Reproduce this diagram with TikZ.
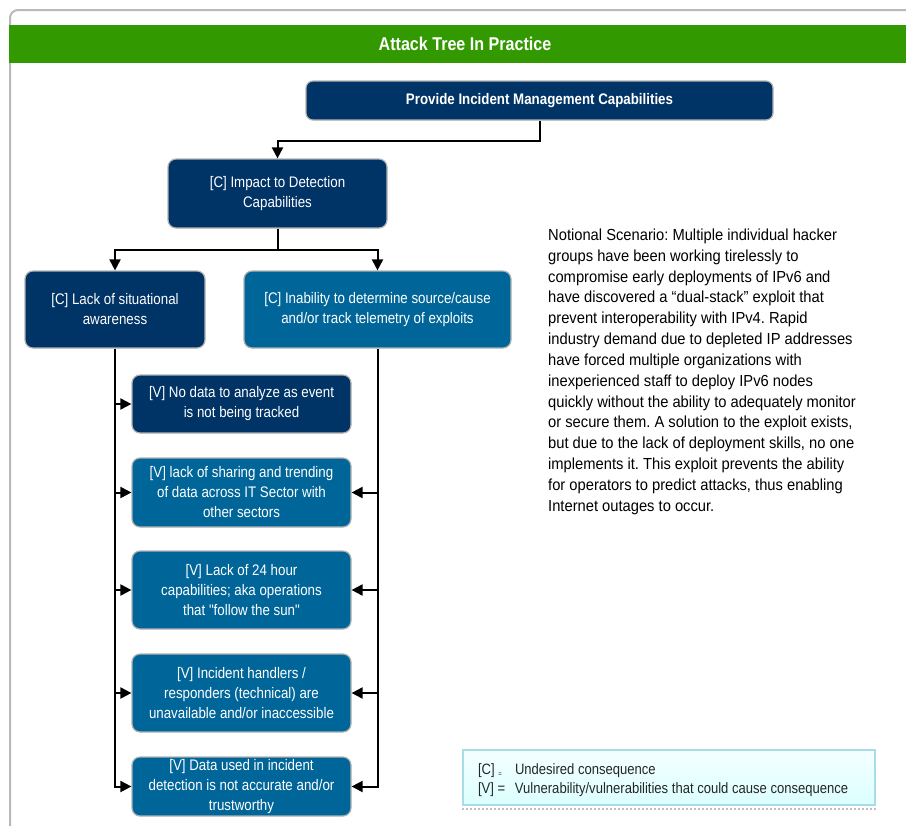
\documentclass[tikz,border=0pt]{standalone}
\usepackage{fontspec}
\setmainfont[FakeStretch=0.87, Ligatures=TeXOff]{Liberation Sans}
\newfontfamily\notefont[FakeStretch=0.92]{Liberation Sans}
\usepackage{tikz}
\usetikzlibrary{arrows.meta}
\usetikzlibrary{positioning}
\frenchspacing

\definecolor{barGreen}{RGB}{51,153,0}
\definecolor{navyBox}{RGB}{0,51,102}
\definecolor{blueBox}{RGB}{0,102,153}
\definecolor{legendLine}{RGB}{168,220,230}

\begin{document}
\begin{tikzpicture}[
        x=1pt, y=-1pt,
        box/.style={draw=gray!60, line width=1.2pt, rounded corners=8pt, inner sep=0pt,
            text=white, align=center, font=\fontsize{15.3}{20}\selectfont},
        darkbox/.style={box, fill=navyBox},
        lightbox/.style={box, fill=blueBox},
        link/.style={-{Triangle[length=11pt, width=11pt]}, line width=2pt},
        frame/.style={gray!55, line width=2pt, rounded corners=8pt},
        note/.style={inner sep=0pt, align=left, font=\notefont\fontsize{16}{20.85}\selectfont},
        legend/.style={draw=legendLine, line width=1.2pt, top color=cyan!4, bottom color=cyan!14,
            minimum width=412pt, minimum height=55pt, inner sep=0pt,
            align=left, text=black!85, font=\fontsize{15}{19}\selectfont}
    ]
        \useasboundingbox (0,0) rectangle (906,828);

        % Frame and title bar
        \draw[frame] (10,826) -- (10,10) -- (906,10);
        \fill[barGreen] (9,25) rectangle (906,63);
        \node[text=white, font=\fontsize{18.5}{22}\selectfont\bfseries] (title) at (465,44) {Attack Tree In Practice};

        % Goal and consequences
        \node[darkbox, minimum width=467pt, minimum height=39pt, rounded corners=7pt, font=\fontsize{15.3}{20}\selectfont\bfseries]
            (top) at (539.5,100.5) {Provide Incident Management Capabilities};
        \node[darkbox, minimum width=219pt, minimum height=69pt] (c1) at (277.5,193.5) {[C] Impact to Detection\\Capabilities};
        \node[darkbox, minimum width=180pt, minimum height=77pt] (c2) at (115,309.5) {[C] Lack of situational\\awareness};
        \node[lightbox, minimum width=267pt, minimum height=77pt] (c3) at (377.5,309.5) {[C] Inability to determine source/cause\\and/or track telemetry of exploits};

        % Vulnerabilities
        \node[darkbox, minimum width=219pt, minimum height=58pt] (v1) at (241.5,404) {[V] No data to analyze as event\\is not being tracked};
        \node[lightbox, minimum width=219pt, minimum height=69pt] (v2) at (241.5,492.5) {[V] lack of sharing and trending\\of data across IT Sector with\\other sectors};
        \node[lightbox, minimum width=219pt, minimum height=78pt] (v3) at (241.5,590) {[V] Lack of 24 hour\\capabilities; aka operations\\that "follow the sun"};
        \node[lightbox, minimum width=219pt, minimum height=78pt] (v4) at (241.5,693) {[V] Incident handlers /\\responders (technical) are\\unavailable and/or inaccessible};
        \node[lightbox, minimum width=219pt, minimum height=59pt] (v5) at (241.5,786.5) {[V] Data used in incident\\detection is not accurate and/or\\trustworthy};

        % Tree links
        \draw[link] (top.south) -- ++(0,20) -| (c1.north);
        \draw[link] (c1.south) -- ++(0,21) -| (c2.north);
        \draw[link] (c1.south) -- ++(0,21) -| (c3.north);
        \draw[link] (c2.south) |- (v5.west);
        \foreach \v in {v1,v2,v3,v4}
            \draw[link] (c2.south |- \v.west) -- (\v.west);
        \draw[link] (c3.south) |- (v5.east);
        \foreach \v in {v2,v3,v4}
            \draw[link] (c3.south |- \v.east) -- (\v.east);

        % Scenario text
        \node[note, anchor=north west] (scenario) at (548,228.5) {%
            Notional Scenario: Multiple individual hacker\\
            groups have been working tirelessly to\\
            compromise early deployments of IPv6 and\\
            have discovered a “dual-stack” exploit that\\
            prevent interoperability with IPv4. Rapid\\
            industry demand due to depleted IP addresses\\
            have forced multiple organizations with\\
            inexperienced staff to deploy IPv6 nodes\\
            quickly without the ability to adequately monitor\\
            or secure them. A solution to the exploit exists,\\
            but due to the lack of deployment skills, no one\\
            implements it. This exploit prevents the ability\\
            for operators to predict attacks, thus enabling\\
            Internet outages to occur.};

        % Legend
        \node[legend] (legend) at (669,777.5) {%
            \rule{0pt}{17pt}\makebox[382pt][l]{\makebox[37pt][l]{[C] \raisebox{-2pt}{\scriptsize =}}Undesired consequence}\\
            \makebox[382pt][l]{\makebox[37pt][l]{[V] =}Vulnerability/vulnerabilities that could cause consequence}};
        \draw[gray!50, dotted, line width=2pt] ([yshift=-3pt]legend.south west) -- ([yshift=-3pt]legend.south east);
    \end{tikzpicture}
\end{document}
